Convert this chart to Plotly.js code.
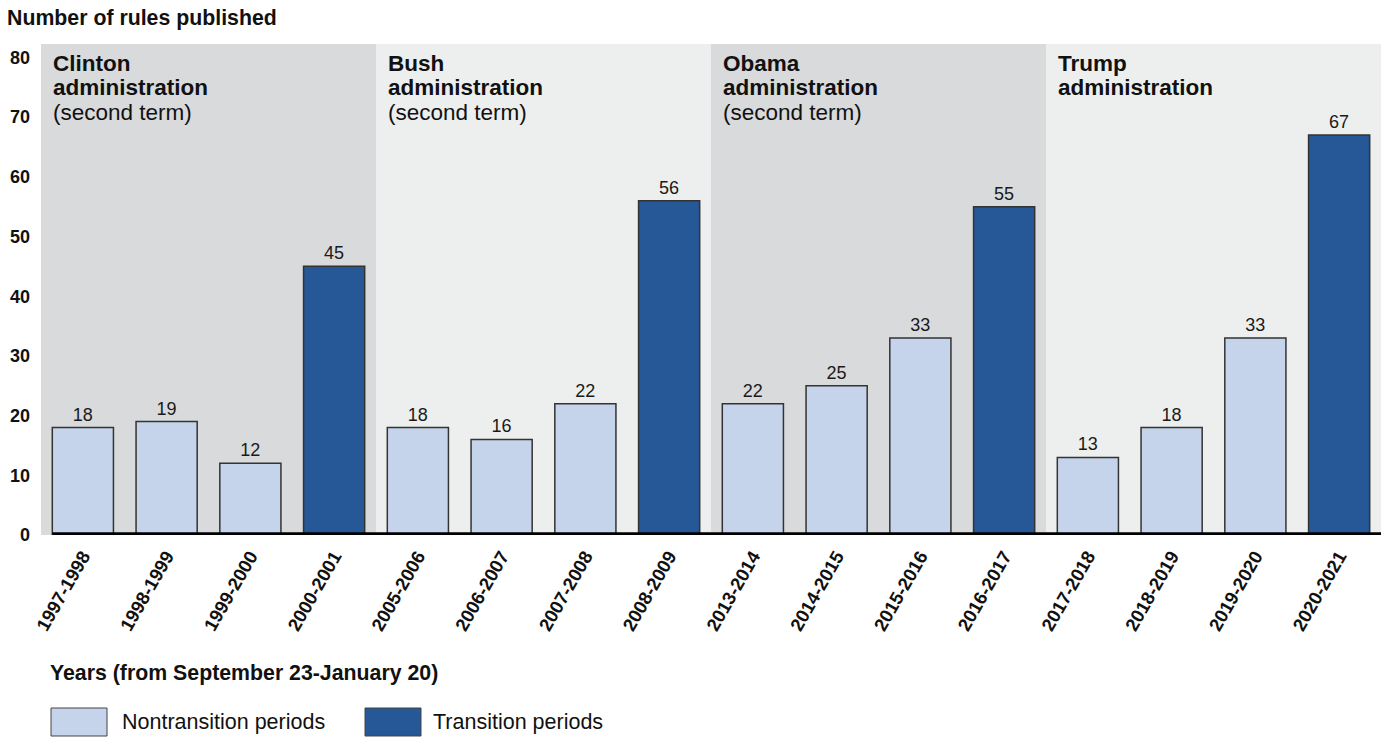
<!DOCTYPE html>
<html>
<head>
<meta charset="utf-8">
<script src="https://cdn.plot.ly/plotly-3.0.1.min.js"></script>
<style>html,body{margin:0;padding:0;background:#fff;}#chart{width:1383px;height:737px;}</style>
</head>
<body>
<div id="chart"></div>
<script>
const categories = ["1997-1998","1998-1999","1999-2000","2000-2001","2005-2006","2006-2007","2007-2008","2008-2009","2013-2014","2014-2015","2015-2016","2016-2017","2017-2018","2018-2019","2019-2020","2020-2021"];
const values = [18,19,12,45,18,16,22,56,22,25,33,55,13,18,33,67];
const isTransition = [false,false,false,true,false,false,false,true,false,false,false,true,false,false,false,true];
const administrations = ["Clinton","Bush","Obama","Trump"];
const adminSubtitles = ["(second term)","(second term)","(second term)",""];
const yTicks = [0,10,20,30,40,50,60,70,80];
const legendLabels = ["Nontransition periods","Transition periods"];

const FONT = "Liberation Sans, Arial, sans-serif";
const LIGHT = "#c6d4eb", DARK = "#265797";
const BAND_DARK = "#d9dadc", BAND_LIGHT = "#edefef";
const BARW = 0.73;
const PW = 1340, PH = 491; // plot area size in px
const px = v => v / PW, py = v => v / PH;

const nonVals = values.map((v,i)=> isTransition[i] ? null : v);
const trVals = values.map((v,i)=> isTransition[i] ? v : null);

const common = {type:'bar', x:categories, width:BARW, textposition:'outside', cliponaxis:false,
  textfont:{family:FONT,size:18,color:'#1a1a1a'}, hoverinfo:'x+y'};

const traces = [
  Object.assign({}, common, {name:legendLabels[0], y:nonVals, text:nonVals.map(v=>v===null?'':String(v)), marker:{color:LIGHT,line:{color:'#333',width:1.5}}}),
  Object.assign({}, common, {name:legendLabels[1], y:trVals, text:trVals.map(v=>v===null?'':String(v)), marker:{color:DARK,line:{color:'#333',width:1.5}}})
];

const shapes = [];
const annotations = [];
const perAdmin = categories.length / administrations.length;
administrations.forEach((a,k)=>{
  const x0 = k*perAdmin - 0.5, x1 = (k+1)*perAdmin - 0.5;
  shapes.push({type:'rect', xref:'x', yref:'paper', x0:x0, x1:x1, y0:0, y1:1, fillcolor: k%2===0?BAND_DARK:BAND_LIGHT, line:{width:0}, layer:'below'});
  const lines = ['<b>'+a+'</b>','<b>administration</b>'];
  if (adminSubtitles[k]) lines.push(adminSubtitles[k]);
  lines.forEach((t,j)=>{
    annotations.push({xref:'x', yref:'paper', x:x0, y:1, xanchor:'left', yanchor:'middle', xshift:10, yshift:-(19+j*24.5), align:'left', showarrow:false, text:t, font:{family:FONT,size:22.5,color:'#111'}});
  });
});
// baseline
shapes.push({type:'line', xref:'x', yref:'y', x0:-0.5+(1-BARW)/2, x1:categories.length-0.5, y0:0, y1:0, line:{color:'#000',width:5.5}, layer:'above'});

// y-axis title (top)
annotations.push({xref:'paper', yref:'paper', x:px(-36), y:1, xanchor:'left', yanchor:'middle', yshift:26, showarrow:false, text:'<b>Number of rules published</b>', font:{family:FONT,size:21.3,color:'#111'}});
// x-axis title
annotations.push({xref:'paper', yref:'paper', x:px(7), y:0, xanchor:'left', yanchor:'middle', yshift:-138, showarrow:false, text:'<b>Years (from September 23-January 20)</b>', font:{family:FONT,size:21.3,color:'#111'}});
// custom legend
const legendBoxX = [10, 324];
const legendTextX = [79, 390];
const legendColors = [LIGHT, DARK];
legendLabels.forEach((lab,i)=>{
  shapes.push({type:'rect', xref:'paper', yref:'paper', x0:px(legendBoxX[i]), x1:px(legendBoxX[i]+56), y0:-py(201), y1:-py(173), fillcolor:legendColors[i], line:{color:'#444',width:1}});
  annotations.push({xref:'paper', yref:'paper', x:px(legendTextX[i]), y:-py(187), xanchor:'left', yanchor:'middle', showarrow:false,
    text:lab, font:{family:FONT,size:21.5,color:'#111'}});
});

const layout = {
  width:1383, height:737,
  margin:{l:41, r:2, t:44, b:202},
  paper_bgcolor:'#fff', plot_bgcolor:'rgba(0,0,0,0)',
  barmode:'overlay', showlegend:false, bargap:0,
  font:{family:FONT, color:'#111'},
  xaxis:{type:'category', tickangle:-60, tickfont:{family:FONT,size:18.5,color:'#111',weight:'bold'}, showgrid:false, zeroline:false, showline:false, ticks:'', ticklabelstandoff:6, range:[-0.5, categories.length-0.5], fixedrange:true},
  yaxis:{range:[0, PH/5.97], tickvals:yTicks, ticktext:yTicks.map(v=>'<b>'+v+'</b>'), tickfont:{family:FONT,size:18,color:'#111'}, showgrid:false, zeroline:false, showline:false, ticks:'', ticklabelstandoff:10, fixedrange:true},
  shapes:shapes, annotations:annotations
};

Plotly.newPlot('chart', traces, layout, {displayModeBar:false, staticPlot:true});
</script>
</body>
</html>
